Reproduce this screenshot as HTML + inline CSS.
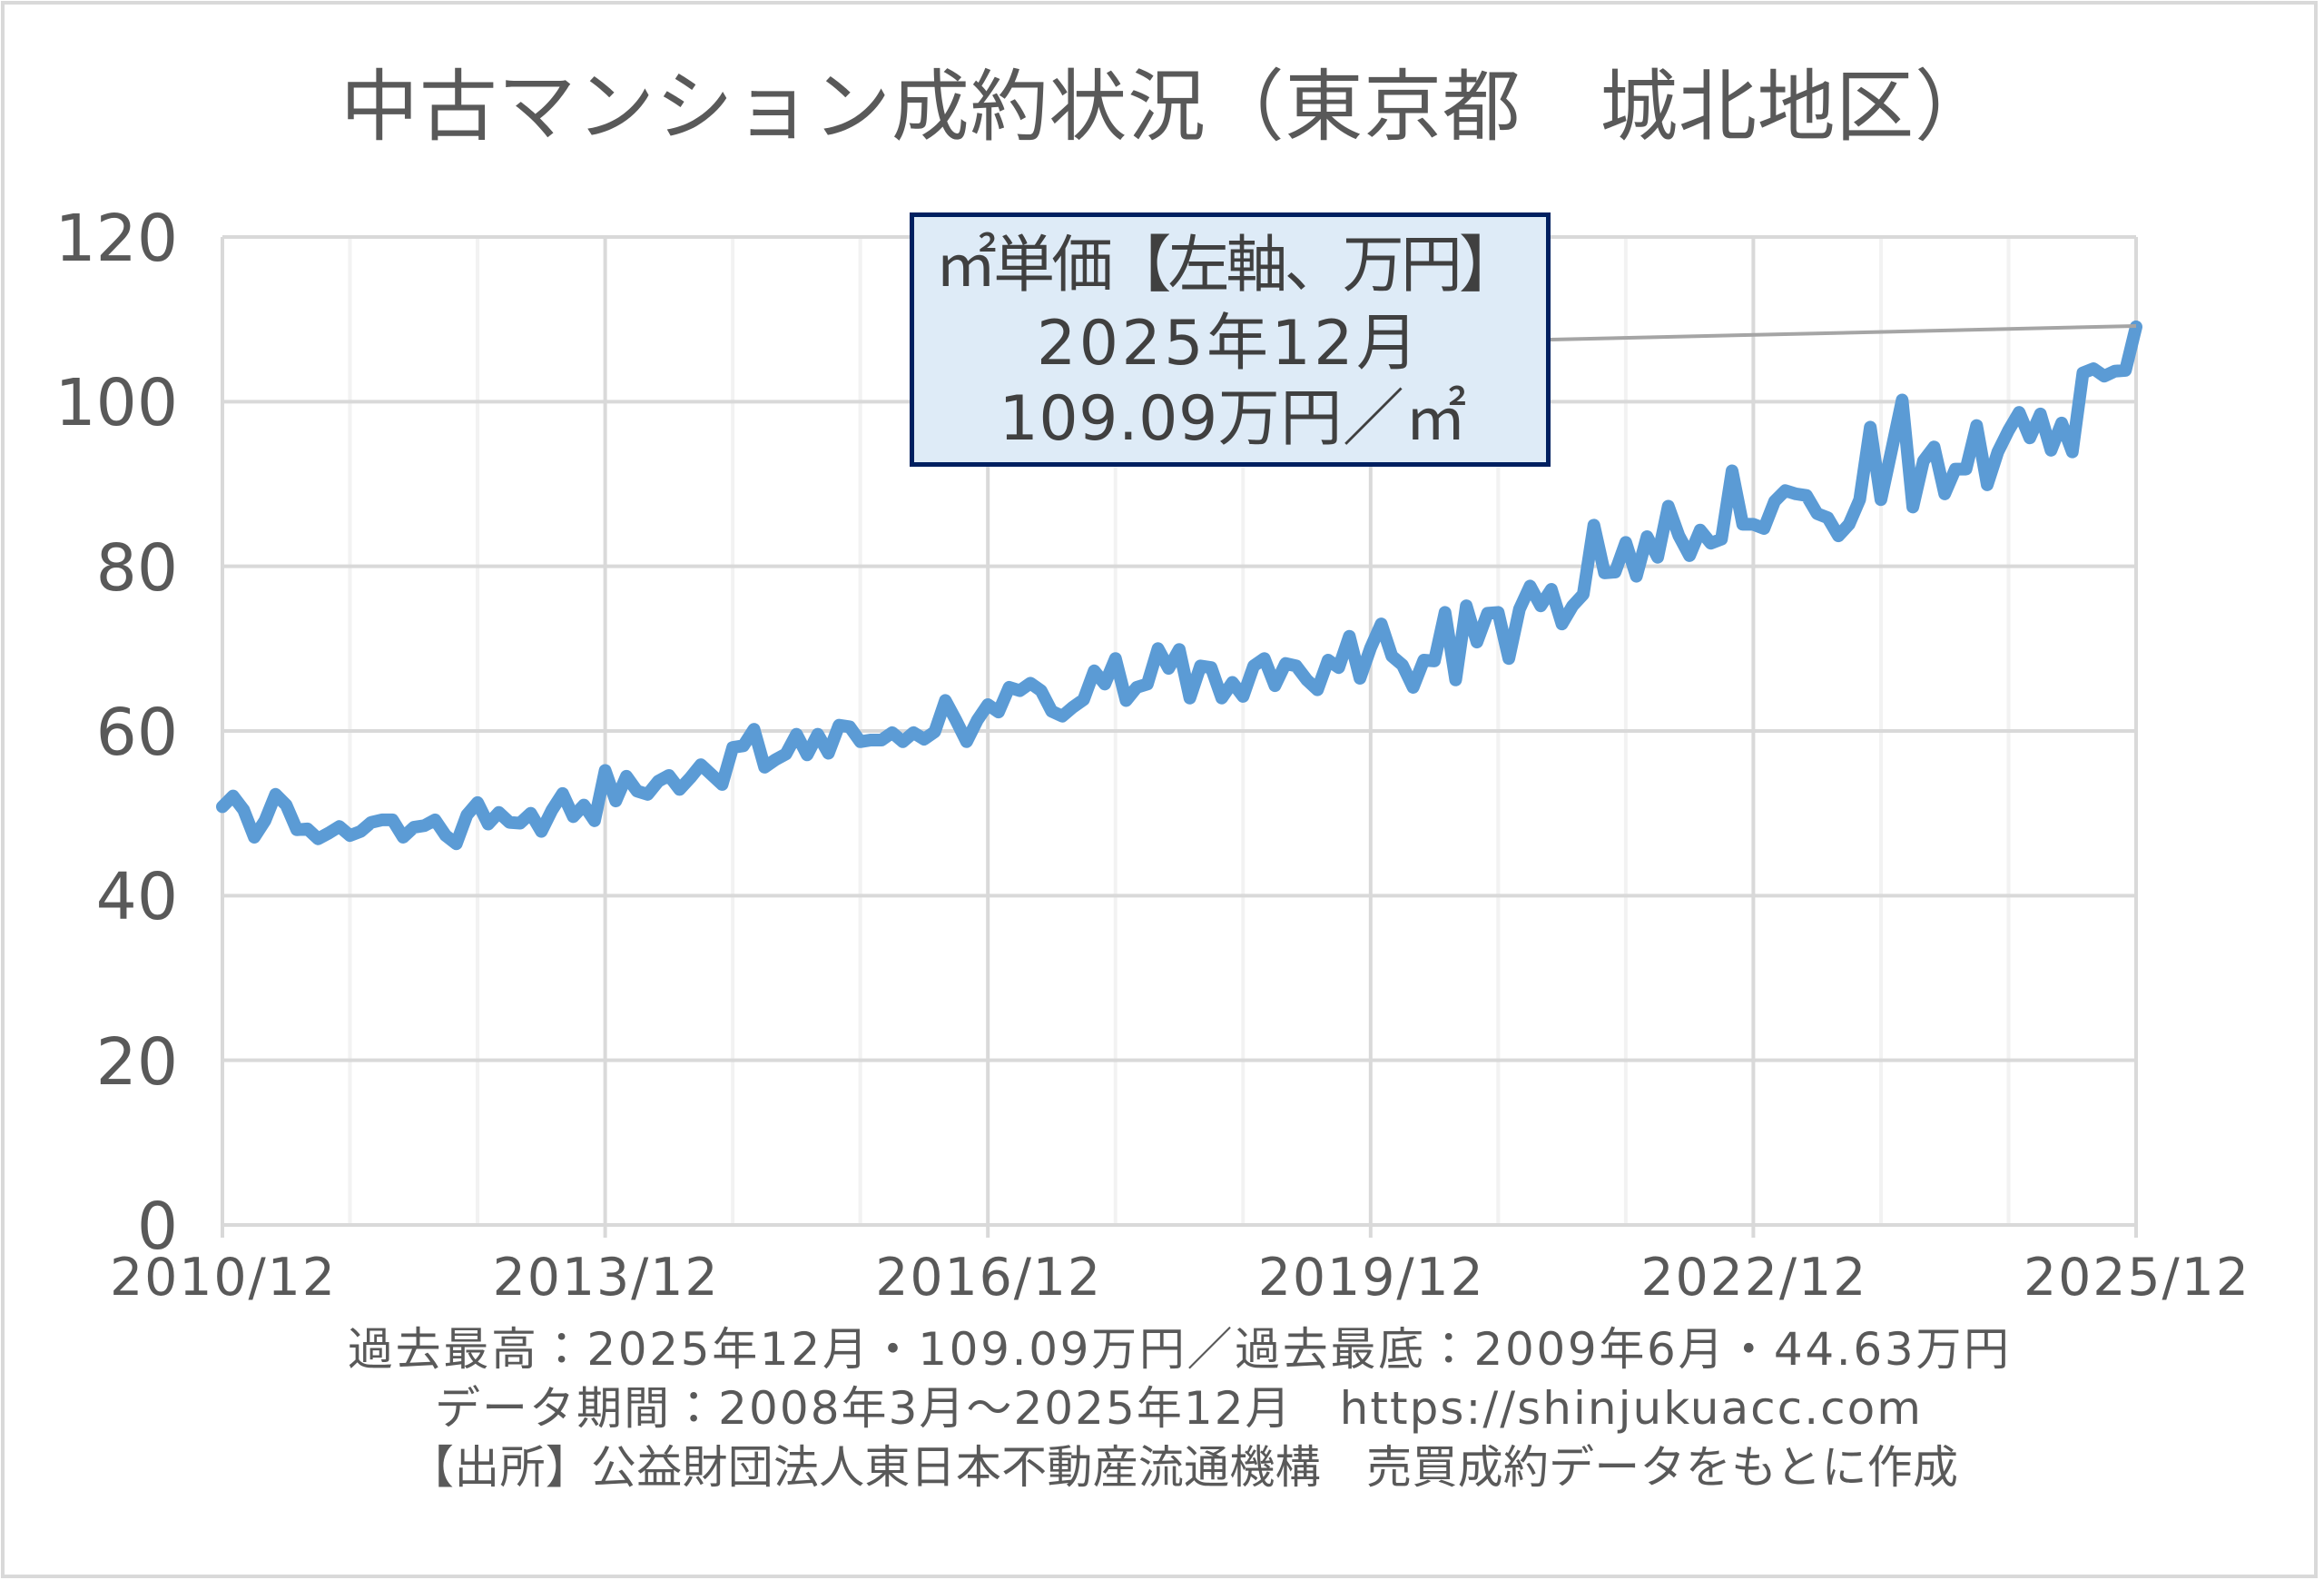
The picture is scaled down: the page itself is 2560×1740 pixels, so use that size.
<!DOCTYPE html>
<html>
<head>
<meta charset="utf-8">
<style>
html,body{margin:0;padding:0;background:#fff;}
svg{display:block;}
</style>
</head>
<body>
<svg width="2560" height="1740" viewBox="0 0 2560 1740" xmlns="http://www.w3.org/2000/svg" font-family="'DejaVu Sans','Noto Sans CJK JP',sans-serif">
<rect x="0" y="0" width="2560" height="1740" fill="#ffffff"/>
<rect x="3" y="3" width="2548" height="1733" fill="none" stroke="#d9d9d9" stroke-width="4"/>

<!-- Title -->
<text x="375" y="147" font-size="86" fill="#595959" font-family="'Noto Sans CJK JP',sans-serif" textLength="1820">中古マンション成約状況（東京都　城北地区）</text>

<!-- minor vertical gridlines -->
<g stroke="#f2f2f2" stroke-width="4">
<line x1="385.53" y1="261" x2="385.53" y2="1349"/>
<line x1="526.07" y1="261" x2="526.07" y2="1349"/>
<line x1="807.13" y1="261" x2="807.13" y2="1349"/>
<line x1="947.67" y1="261" x2="947.67" y2="1349"/>
<line x1="1228.73" y1="261" x2="1228.73" y2="1349"/>
<line x1="1369.27" y1="261" x2="1369.27" y2="1349"/>
<line x1="1650.33" y1="261" x2="1650.33" y2="1349"/>
<line x1="1790.87" y1="261" x2="1790.87" y2="1349"/>
<line x1="2071.93" y1="261" x2="2071.93" y2="1349"/>
<line x1="2212.47" y1="261" x2="2212.47" y2="1349"/>
</g>
<!-- horizontal gridlines -->
<g stroke="#d9d9d9" stroke-width="4">
<line x1="245" y1="261" x2="2353" y2="261"/>
<line x1="245" y1="442.33" x2="2353" y2="442.33"/>
<line x1="245" y1="623.67" x2="2353" y2="623.67"/>
<line x1="245" y1="805" x2="2353" y2="805"/>
<line x1="245" y1="986.33" x2="2353" y2="986.33"/>
<line x1="245" y1="1167.67" x2="2353" y2="1167.67"/>
<line x1="245" y1="1349" x2="2353" y2="1349"/>
</g>
<!-- major vertical gridlines (with ticks) -->
<g stroke="#d9d9d9" stroke-width="4">
<line x1="245" y1="261" x2="245" y2="1363"/>
<line x1="666.6" y1="261" x2="666.6" y2="1363"/>
<line x1="1088.2" y1="261" x2="1088.2" y2="1363"/>
<line x1="1509.8" y1="261" x2="1509.8" y2="1363"/>
<line x1="1931.4" y1="261" x2="1931.4" y2="1363"/>
<line x1="2353" y1="261" x2="2353" y2="1363"/>
</g>

<!-- Y labels -->
<g font-size="71" fill="#595959" text-anchor="end">
<text x="196" y="287">120</text>
<text x="196" y="468">100</text>
<text x="196" y="650">80</text>
<text x="196" y="831">60</text>
<text x="196" y="1012">40</text>
<text x="196" y="1194">20</text>
<text x="196" y="1375">0</text>
</g>

<!-- X labels -->
<g font-size="57" fill="#595959" text-anchor="middle">
<text x="245" y="1426" textLength="248">2010/12</text>
<text x="666.6" y="1426" textLength="248">2013/12</text>
<text x="1088.2" y="1426" textLength="248">2016/12</text>
<text x="1509.8" y="1426" textLength="248">2019/12</text>
<text x="1931.4" y="1426" textLength="248">2022/12</text>
<text x="2353" y="1426" textLength="248">2025/12</text>
</g>

<!-- Series -->
<polyline fill="none" stroke="#5b9bd5" stroke-width="14" stroke-linejoin="round" stroke-linecap="round" vector-effect="non-scaling-stroke"
transform="matrix(11.7111 0 0 -9.0667 245 1349)"
points="0,50.8 1,52.1 2,50.4 3,47.1 4,49.1 5,52.3 6,51 7,48 8,48.1 9,46.9 10,47.6 11,48.4 12,47.3 13,47.8 14,48.9 15,49.2 16,49.2 17,47.1 18,48.3 19,48.5 20,49.2 21,47.3 22,46.3 23,49.8 24,51.3 25,48.7 26,50.1 27,48.9 28,48.8 29,50 30,47.8 31,50.4 32,52.4 33,49.6 34,51 35,49.1 36,55.2 37,51.5 38,54.5 39,52.7 40,52.3 41,53.9 42,54.6 43,52.9 44,54.3 45,55.9 46,54.7 47,53.5 48,58 49,58.2 50,60.2 51,55.6 52,56.5 53,57.2 54,59.6 55,57.1 56,59.6 57,57.3 58,60.7 59,60.5 60,58.7 61,58.9 62,58.9 63,59.8 64,58.7 65,59.8 66,59 67,59.9 68,63.7 69,61.3 70,58.7 71,61.3 72,63.2 73,62.3 74,65.3 75,64.9 76,65.8 77,64.9 78,62.4 79,61.8 80,62.9 81,63.8 82,67.3 83,65.7 84,68.8 85,63.7 86,65.3 87,65.7 88,70 89,67.6 90,69.9 91,64 92,67.9 93,67.7 94,64 95,65.9 96,64.2 97,67.9 98,68.8 99,65.5 100,68.2 101,67.9 102,66.2 103,65 104,68.6 105,67.7 106,71.5 107,66.4 108,70.1 109,73 110,69.1 111,68 112,65.3 113,68.6 114,68.5 115,74.4 116,66.2 117,75.2 118,70.8 119,74.3 120,74.4 121,68.8 122,74.8 123,77.6 124,75.2 125,77.2 126,73 127,75.2 128,76.6 129,85 130,79.2 131,79.3 132,82.9 133,78.8 134,83.6 135,81.1 136,87.3 137,83.7 138,81.3 139,84.4 140,82.8 141,83.3 142,91.6 143,85.1 144,85.1 145,84.6 146,87.9 147,89.2 148,88.8 149,88.6 150,86.4 151,85.9 152,83.7 153,85.1 154,88.1 155,96.9 156,88.1 157,94.1 158,100.2 159,87.2 160,92.8 161,94.5 162,88.8 163,91.8 164,91.8 165,97.1 166,89.9 167,93.9 168,96.5 169,98.7 170,95.6 171,98.5 172,94.1 173,97.4 174,93.9 175,103.5 176,104 177,103.1 178,103.7 179,103.8 180,109.09"/>

<!-- Leader line -->
<line x1="1708" y1="374" x2="2353" y2="359" stroke="#a5a5a5" stroke-width="4"/>

<!-- Callout -->
<rect x="1004.5" y="236.5" width="701" height="275" fill="#deebf7" stroke="#002060" stroke-width="5"/>
<g font-size="68" fill="#404040">
<text x="1030" y="315" textLength="645">㎡単価【左軸、万円】</text>
<text x="1352" y="401" text-anchor="middle" textLength="420">2025年12月</text>
<text x="1358" y="484" text-anchor="middle" textLength="515">109.09万円／㎡</text>
</g>

<!-- Footer -->
<g font-size="50" fill="#595959">
<text x="383" y="1503" textLength="1830">過去最高：2025年12月・109.09万円／過去最底：2009年6月・44.63万円</text>
<text x="479" y="1568" textLength="1637">データ期間：2008年3月～2025年12月　https://shinjukuacc.com</text>
<text x="450" y="1633" textLength="1707">【出所】公益財団法人東日本不動産流通機構　売買成約データをもとに作成</text>
</g>
</svg>
</body>
</html>
